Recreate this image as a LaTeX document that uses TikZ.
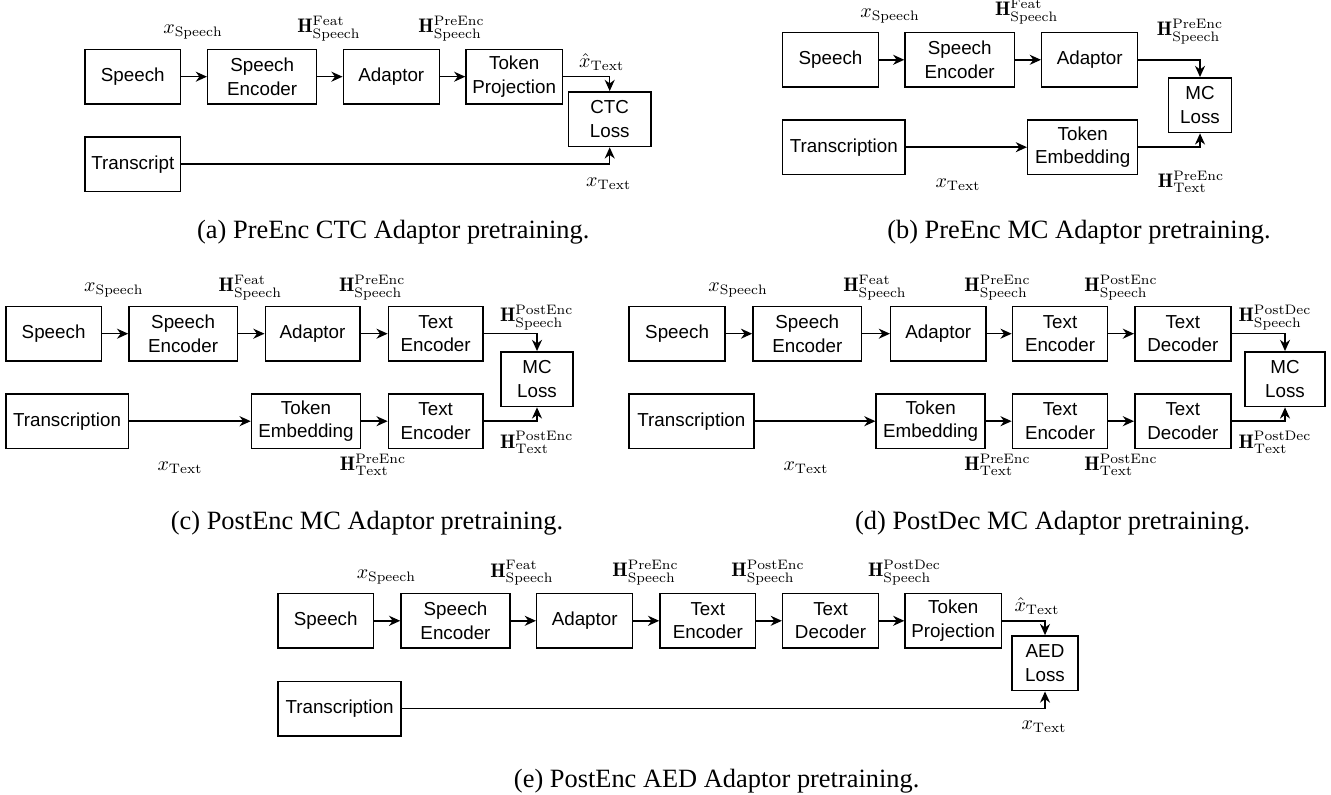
\documentclass[tikz,border=0pt]{standalone}
\usepackage{fontspec}
\usetikzlibrary{arrows.meta}
\newfontfamily\boxfam{Liberation Sans}
\newfontfamily\capfam{Liberation Serif}
\newcommand{\bxfont}{\boxfam\fontsize{9.4}{11.7}\selectfont}
\newcommand{\lbfont}{\fontsize{9.8}{12}\selectfont}
\newcommand{\cpfont}{\capfam\fontsize{13.2}{15}\selectfont}
\newcommand{\HH}[2]{$\mathbf{H}^{\mathrm{#1}}_{\mathrm{#2}}$}
\tikzset{
  bx/.style={draw, line width=0.75pt, minimum height=27.4pt, inner sep=0pt, align=center, font=\bxfont},
  bw/.style={minimum width=#1*0.5pt},
  lbl/.style={inner sep=0pt, font=\lbfont},
  captxt/.style={inner sep=0pt, font=\cpfont},
  arr/.style={line width=0.75pt, -{Stealth[length=5.6pt,width=5pt,inset=1.8pt]}},
}
\begin{document}
\begin{tikzpicture}[x=0.5pt,y=-0.5pt]
\useasboundingbox (0,0) rectangle (1331,795);

% ---------------- (a)
\node[bx,bw=95.7] (a1) at (132.8,76.7) {Speech};
\node[bx,bw=109] (a2) at (262.2,76.7) {Speech\\Encoder};
\node[bx,bw=96] (a3) at (391.3,76.7) {Adaptor};
\node[bx,bw=96.3] (a4) at (514.2,76.7) {Token\\Projection};
\node[bx,bw=82.7] (a5) at (609.7,119.2) {CTC\\Loss};
\node[bx,bw=95.7] (a6) at (132.8,164.2) {Transcript};
\draw[arr] (a1) -- (a2);
\draw[arr] (a2) -- (a3);
\draw[arr] (a3) -- (a4);
\draw[arr] (a4.east) -| (a5.north);
\draw[arr] (a6.east) -| (a5.south);
\node[lbl] (la1) at (193,32) {$x_{\mathrm{Speech}}$};
\node[lbl] (la2) at (329,28.3) {\HH{Feat}{Speech}};
\node[lbl] (la3) at (451.5,28.3) {\HH{PreEnc}{Speech}};
\node[lbl] (la4) at (601.7,61.7) {$\hat{x}_{\mathrm{Text}}$};
\node[lbl] (la5) at (608.7,183.3) {$x_{\mathrm{Text}}$};
\node[captxt] (capa) at (393.3,232) {(a) PreEnc CTC Adaptor pretraining.};

% ---------------- (b)
\node[bx,bw=95.7] (b1) at (830.5,59.8) {Speech};
\node[bx,bw=109.3] (b2) at (959.7,59.8) {Speech\\Encoder};
\node[bx,bw=96] (b3) at (1089.7,59.8) {Adaptor};
\node[bx,bw=63.3] (b4) at (1200,105.2) {MC\\Loss};
\node[bx,bw=122.3] (b5) at (843.8,147.2) {Transcription};
\node[bx,bw=110] (b6) at (1082.7,147.2) {Token\\Embedding};
\draw[arr] (b1) -- (b2);
\draw[arr] (b2) -- (b3);
\draw[arr] (b3.east) -| (b4.north);
\draw[arr] (b5) -- (b6);
\draw[arr] (b6.east) -| (b4.south);
\node[lbl] (lb1) at (890,15.8) {$x_{\mathrm{Speech}}$};
\node[lbl] (lb2) at (1026.7,11.7) {\HH{Feat}{Speech}};
\node[lbl] (lb3) at (1190,31.7) {\HH{PreEnc}{Speech}};
\node[lbl] (lb4) at (958,185) {$x_{\mathrm{Text}}$};
\node[lbl] (lb5) at (1191,181.7) {\HH{PreEnc}{Text}};
\node[captxt] (capb) at (1079,232) {(b) PreEnc MC Adaptor pretraining.};

% ---------------- (c)
\node[bx,bw=95.7] (c1) at (53.6,333.7) {Speech};
\node[bx,bw=108.3] (c2) at (183.1,333.7) {Speech\\Encoder};
\node[bx,bw=94.5] (c3) at (312.5,333.7) {Adaptor};
\node[bx,bw=94.6] (c4) at (435.7,333.7) {Text\\Encoder};
\node[bx,bw=72] (c5) at (537,379.2) {MC\\Loss};
\node[bx,bw=122.5] (c6) at (67,421.2) {Transcription};
\node[bx,bw=109] (c7) at (306,421.2) {Token\\Embedding};
\node[bx,bw=94.6] (c8) at (435.7,421.2) {Text\\Encoder};
\draw[arr] (c1) -- (c2);
\draw[arr] (c2) -- (c3);
\draw[arr] (c3) -- (c4);
\draw[arr] (c4.east) -| (c5.north);
\draw[arr] (c6) -- (c7);
\draw[arr] (c7) -- (c8);
\draw[arr] (c8.east) -| (c5.south);
\node[lbl] (lc1) at (113.9,290) {$x_{\mathrm{Speech}}$};
\node[lbl] (lc2) at (250.3,287.5) {\HH{Feat}{Speech}};
\node[lbl] (lc3) at (372.2,287.5) {\HH{PreEnc}{Speech}};
\node[lbl] (lc4) at (536.7,317.5) {\HH{PostEnc}{Speech}};
\node[lbl] (lc5) at (536.7,442.5) {\HH{PostEnc}{Text}};
\node[lbl] (lc6) at (180,468) {$x_{\mathrm{Text}}$};
\node[lbl] (lc7) at (373,465) {\HH{PreEnc}{Text}};
\node[captxt] (capc) at (367,523) {(c) PostEnc MC Adaptor pretraining.};

% ---------------- (d)
\node[bx,bw=96] (d1) at (677.1,333.7) {Speech};
\node[bx,bw=108.8] (d2) at (807.3,333.7) {Speech\\Encoder};
\node[bx,bw=95.2] (d3) at (938.3,333.7) {Adaptor};
\node[bx,bw=95.2] (d4) at (1060,333.7) {Text\\Encoder};
\node[bx,bw=96.1] (d5) at (1182.8,333.7) {Text\\Decoder};
\node[bx,bw=80] (d6) at (1285,379.2) {MC\\Loss};
\node[bx,bw=124.7] (d7) at (691.4,421.2) {Transcription};
\node[bx,bw=108.8] (d8) at (930.6,421.2) {Token\\Embedding};
\node[bx,bw=95.2] (d9) at (1060,421.2) {Text\\Encoder};
\node[bx,bw=96.1] (d10) at (1182.8,421.2) {Text\\Decoder};
\draw[arr] (d1) -- (d2);
\draw[arr] (d2) -- (d3);
\draw[arr] (d3) -- (d4);
\draw[arr] (d4) -- (d5);
\draw[arr] (d5.east) -| (d6.north);
\draw[arr] (d7) -- (d8);
\draw[arr] (d8) -- (d9);
\draw[arr] (d9) -- (d10);
\draw[arr] (d10.east) -| (d6.south);
\node[lbl] (ld1) at (738,290) {$x_{\mathrm{Speech}}$};
\node[lbl] (ld2) at (875,287.5) {\HH{Feat}{Speech}};
\node[lbl] (ld3) at (997.5,287.5) {\HH{PreEnc}{Speech}};
\node[lbl] (ld4) at (1121,287.5) {\HH{PostEnc}{Speech}};
\node[lbl] (ld5) at (1275,317.5) {\HH{PostDec}{Speech}};
\node[lbl] (ld6) at (1275,442.5) {\HH{PostDec}{Text}};
\node[lbl] (ld7) at (806,468) {$x_{\mathrm{Text}}$};
\node[lbl] (ld8) at (997.5,465) {\HH{PreEnc}{Text}};
\node[lbl] (ld9) at (1121,465) {\HH{PostEnc}{Text}};
\node[captxt] (capd) at (1052.7,523) {(d) PostDec MC Adaptor pretraining.};

% ---------------- (e)
\node[bx,bw=95.7] (e1) at (325.7,620.8) {Speech};
\node[bx,bw=109] (e2) at (455.5,620.8) {Speech\\Encoder};
\node[bx,bw=96] (e3) at (584.7,620.8) {Adaptor};
\node[bx,bw=95.7] (e4) at (707.8,620.8) {Text\\Encoder};
\node[bx,bw=95.7] (e5) at (830.5,620.8) {Text\\Decoder};
\node[bx,bw=96.3] (e6) at (953.2,620.8) {Token\\Projection};
\node[bx,bw=66] (e7) at (1045,663.3) {AED\\Loss};
\node[bx,bw=123.2] (e8) at (339.5,708.7) {Transcription};
\draw[arr] (e1) -- (e2);
\draw[arr] (e2) -- (e3);
\draw[arr] (e3) -- (e4);
\draw[arr] (e4) -- (e5);
\draw[arr] (e5) -- (e6);
\draw[arr] (e6.east) -| (e7.north);
\draw[arr] (e8.east) -| (e7.south);
\node[lbl] (le1) at (386.4,576.7) {$x_{\mathrm{Speech}}$};
\node[lbl] (le2) at (522,573) {\HH{Feat}{Speech}};
\node[lbl] (le3) at (645.5,572.5) {\HH{PreEnc}{Speech}};
\node[lbl] (le4) at (768,572.5) {\HH{PostEnc}{Speech}};
\node[lbl] (le5) at (904.5,572.5) {\HH{PostDec}{Speech}};
\node[lbl] (le6) at (1037,606) {$\hat{x}_{\mathrm{Text}}$};
\node[lbl] (le7) at (1044,727) {$x_{\mathrm{Text}}$};
\node[captxt] (cape) at (716.7,781) {(e) PostEnc AED Adaptor pretraining.};
\end{tikzpicture}
\end{document}
